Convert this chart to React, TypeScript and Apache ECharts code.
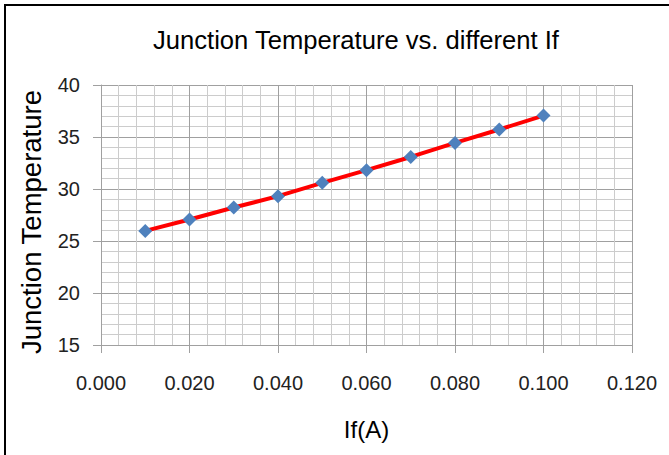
import React, { useEffect, useRef } from "react";
import * as echarts from "echarts";

const currents = [0.01, 0.02, 0.03, 0.04, 0.05, 0.06, 0.07, 0.08, 0.09, 0.1];
const junctionTemps = [25.97, 27.07, 28.22, 29.31, 30.59, 31.81, 33.08, 34.43, 35.72, 37.06];
const titleText = "Junction Temperature vs. different If";
const xName = "If(A)";
const yName = "Junction Temperature";

export default function App() {
  const ref = useRef<HTMLDivElement>(null);
  useEffect(() => {
    if (!ref.current) return;
    const chart = echarts.init(ref.current, null, { renderer: "svg" });
    const data = currents.map((x, i) => [x, junctionTemps[i]]);
    chart.setOption({
      animation: false,
      backgroundColor: "#ffffff",
      title: {
        text: titleText,
        left: 148,
        top: 22,
        textStyle: { fontFamily: "Liberation Sans", fontSize: 25.6, fontWeight: "normal", color: "#000" },
      },
      grid: { left: 101, right: 37, top: 85, bottom: 110, containLabel: false },
      xAxis: {
        type: "value",
        min: 0,
        max: 0.12,
        interval: 0.02,
        name: xName,
        nameLocation: "middle",
        nameGap: 72,
        nameTextStyle: { fontFamily: "Liberation Sans", fontSize: 24, color: "#000" },
        axisLine: { show: true, lineStyle: { color: "#a0a0a0", width: 1 } },
        axisTick: { show: true, inside: false, length: 8, lineStyle: { color: "#a0a0a0" } },
        axisLabel: {
          margin: 28,
          fontFamily: "Liberation Sans",
          fontSize: 20,
          color: "#222",
          formatter: (v: number) => v.toFixed(3),
        },
        splitLine: { show: true, lineStyle: { color: "#a0a0a0", width: 1 } },
        minorTick: { show: false, splitNumber: 5 },
        minorSplitLine: { show: true, lineStyle: { color: "#cccccc", width: 1 } },
      },
      yAxis: {
        type: "value",
        min: 15,
        max: 40,
        interval: 5,
        axisLine: { show: true, lineStyle: { color: "#a0a0a0", width: 1 } },
        axisTick: { show: true, inside: false, length: 8, lineStyle: { color: "#a0a0a0" } },
        axisLabel: { margin: 21, fontFamily: "Liberation Sans", fontSize: 20, color: "#222" },
        splitLine: { show: true, lineStyle: { color: "#a0a0a0", width: 1 } },
        minorTick: { show: false, splitNumber: 5 },
        minorSplitLine: { show: true, lineStyle: { color: "#cccccc", width: 1 } },
      },
      graphic: [
        { type: "rect", shape: { x: 4, y: 4, width: 2, height: 460 }, style: { fill: "#000" }, silent: true },
        { type: "rect", shape: { x: 4, y: 4, width: 680, height: 2 }, style: { fill: "#000" }, silent: true },
        {
          type: "text",
          x: 31,
          y: 222,
          rotation: Math.PI / 2,
          silent: true,
          style: {
            text: yName,
            fill: "#000",
            font: "27.5px 'Liberation Sans'",
            textAlign: "center",
            textVerticalAlign: "middle",
          },
        },
      ],
      series: [
        {
          type: "line",
          data,
          lineStyle: { color: "#ff0000", width: 4 },
          symbol: "diamond",
          symbolSize: 14,
          itemStyle: { color: "#4f81bd" },
          z: 3,
        },
      ],
    });
    return () => chart.dispose();
  }, []);
  return <div ref={ref} style={{ position: "fixed", left: 0, top: 0, width: 669, height: 455 }} />;
}
